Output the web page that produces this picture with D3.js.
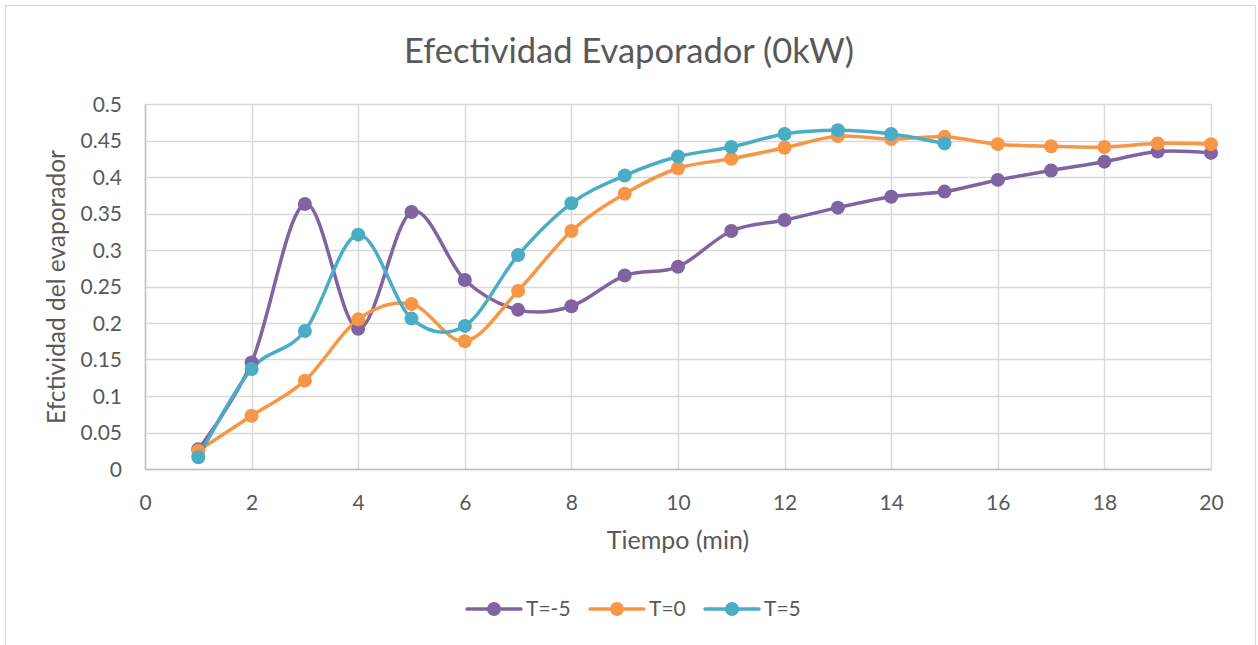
<!DOCTYPE html>
<html><head><meta charset="utf-8">
<script src="https://cdn.jsdelivr.net/npm/d3@7"></script>
<style>
body{margin:0;background:#fff;}
text{font-family:Lato,"Open Sans",sans-serif;fill:#595959;}
</style></head>
<body><svg id="c" width="1258" height="645"></svg>
<script>
const title = "Efectividad Evaporador (0kW)";
const xTitle = "Tiempo (min)";
const yTitle = "Efctividad del evaporador";
const xTicks = [0,2,4,6,8,10,12,14,16,18,20];
const yTicks = [0,0.05,0.1,0.15,0.2,0.25,0.3,0.35,0.4,0.45,0.5];
const seriesNames = ["T=-5","T=0","T=5"];
const seriesColors = ["#8064A2","#F79646","#4BACC6"];
const tMinus5 = [0.027,0.146,0.363,0.192,0.352,0.259,0.218,0.223,0.265,0.277,0.326,0.341,0.358,0.373,0.380,0.396,0.409,0.421,0.435,0.433];
const t0 = [0.025,0.073,0.121,0.205,0.226,0.175,0.244,0.326,0.377,0.412,0.425,0.440,0.456,0.452,0.455,0.445,0.442,0.441,0.446,0.445];
const t5 = [0.016,0.137,0.189,0.321,0.206,0.196,0.293,0.364,0.402,0.428,0.441,0.459,0.464,0.459,0.446];
const seriesValues = [tMinus5, t0, t5];

const svg = d3.select("#c");
svg.append("rect").attr("x",5.5).attr("y",5.5).attr("width",1250).attr("height",660)
  .attr("fill","#fff").attr("stroke","#d9d9d9").attr("stroke-width",1.3);

const L=145, R=1211, T=104, B=469;
const x = d3.scaleLinear().domain([0,20]).range([L,R]);
const y = d3.scaleLinear().domain([0,0.5]).range([B,T]);

const g = svg.append("g");
g.selectAll(".gy").data(yTicks).join("line")
  .attr("x1",L).attr("x2",R).attr("y1",d=>Math.round(y(d))+0.5).attr("y2",d=>Math.round(y(d))+0.5)
  .attr("stroke","#d9d9d9").attr("stroke-width",1.4);
g.selectAll(".gx").data(xTicks).join("line")
  .attr("y1",T).attr("y2",B).attr("x1",d=>Math.round(x(d))+0.5).attr("x2",d=>Math.round(x(d))+0.5)
  .attr("stroke","#d9d9d9").attr("stroke-width",1.4);

const xAxis = d3.axisBottom(x).tickValues(xTicks).tickSize(0).tickPadding(0).tickFormat(d3.format("d"));
const xa = svg.append("g").attr("transform",`translate(0,${B})`).call(xAxis);
xa.select(".domain").attr("stroke","#bfbfbf").attr("stroke-width",1.4);
xa.selectAll("text").attr("dy",null).attr("y",41).style("font-size","21px").style("fill","#595959").style("font-family","Lato");

const yAxis = d3.axisLeft(y).tickValues(yTicks).tickSize(0).tickPadding(0).tickFormat(d=>d===0?"0":String(+d.toFixed(2)));
const ya = svg.append("g").attr("transform",`translate(${L},0)`).call(yAxis);
ya.select(".domain").attr("stroke","#bfbfbf").attr("stroke-width",1.4);
ya.selectAll("text").attr("x",-23).attr("dy","0.35em").style("font-size","21px").style("fill","#595959").style("font-family","Lato");

svg.append("text").attr("x",629).attr("y",63).attr("text-anchor","middle").style("font-size","34.5px").text(title);
svg.append("text").attr("x",678).attr("y",549).attr("text-anchor","middle").style("font-size","25px").text(xTitle);
svg.append("text").attr("transform","translate(65,287) rotate(-90)").attr("text-anchor","middle").style("font-size","24.5px").text(yTitle);

const line = d3.line().x((d,i)=>x(i+1)).y(d=>y(d)).curve(d3.curveCardinal.tension(0));
seriesValues.forEach((vals,k)=>{
  svg.append("path").attr("d",line(vals)).attr("fill","none").attr("stroke",seriesColors[k])
    .attr("stroke-width",3.5).attr("stroke-linecap","round").attr("stroke-linejoin","round");
});
seriesValues.forEach((vals,k)=>{
  svg.append("g").selectAll("circle").data(vals).join("circle")
    .attr("cx",(d,i)=>x(i+1)).attr("cy",d=>y(d)).attr("r",7).attr("fill",seriesColors[k]);
});

const legX = [467,590,705];
const leg = svg.append("g");
seriesNames.forEach((n,k)=>{
  const lx = legX[k], ly = 609;
  leg.append("line").attr("x1",lx).attr("x2",lx+54).attr("y1",ly).attr("y2",ly)
    .attr("stroke",seriesColors[k]).attr("stroke-width",3.5).attr("stroke-linecap","round");
  leg.append("circle").attr("cx",lx+27).attr("cy",ly).attr("r",7).attr("fill",seriesColors[k]);
  leg.append("text").attr("x",lx+59).attr("y",ly).attr("dy","0.35em").style("font-size","21px").text(n);
});
</script></body></html>
